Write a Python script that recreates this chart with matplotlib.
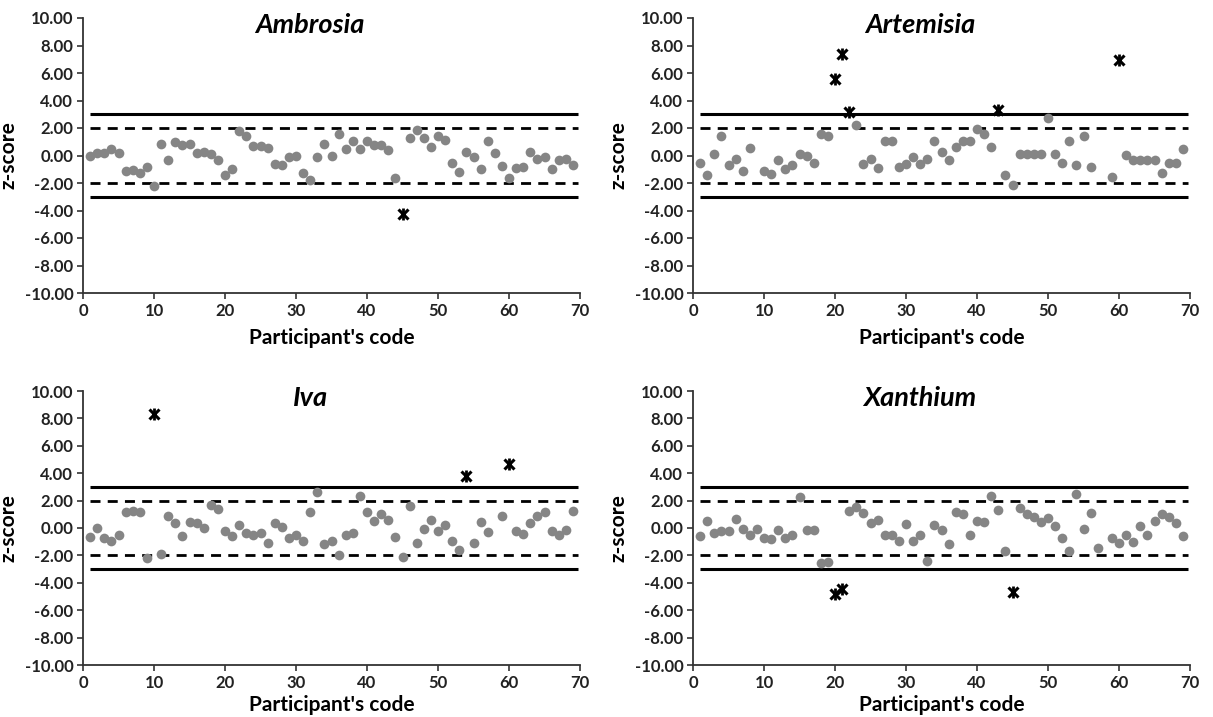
import matplotlib
matplotlib.use("Agg")
import matplotlib.pyplot as plt
import numpy as np

plt.rcParams['font.family'] = ['Lato', 'DejaVu Sans']

# ---------------- data ----------------
amb_codes = [1,2,3,4,5,6,7,8,9,10,11,12,13,14,15,16,17,18,19,20,21,22,23,24,25,26,27,28,29,30,
             31,32,33,34,35,36,37,38,39,40,41,42,43,44,46,47,48,49,50,51,52,53,54,55,56,57,58,59,60,
             61,62,63,64,65,66,67,68,69]
amb_z = [0.0,0.15,0.2,0.5,0.15,-1.15,-1.05,-1.3,-0.85,-2.25,0.83,-0.3,1.0,0.75,0.83,0.15,0.25,0.08,-0.3,-1.45,
         -0.95,1.75,1.4,0.7,0.7,0.52,-0.62,-0.7,-0.12,-0.05,-1.3,-1.8,-0.12,0.83,0.0,1.58,0.45,1.02,0.45,1.07,
         0.75,0.75,0.38,-1.65,1.28,1.83,1.25,0.65,1.4,1.13,-0.55,-1.22,0.25,-0.12,-1.0,1.07,0.2,-0.75,-1.62,
         -0.88,-0.8,0.25,-0.25,-0.12,-1.0,-0.3,-0.25,-0.68]
amb_out_codes = [45]
amb_out_z = [-4.25]

art_codes = [1,2,3,4,5,6,7,8,10,11,12,13,14,15,16,17,18,19,23,24,25,26,27,28,29,30,31,32,33,34,35,36,
             37,38,39,40,41,42,44,45,46,47,48,49,50,51,52,53,54,55,56,59,61,62,63,64,65,66,67,68,69]
art_z = [-0.57,-1.42,0.14,1.45,-0.67,-0.29,-1.12,0.57,-1.12,-1.32,-0.31,-1.0,-0.72,0.09,-0.01,-0.52,1.6,1.4,
         2.2,-0.59,-0.24,-0.89,1.02,1.02,-0.82,-0.59,-0.11,-0.62,-0.24,1.02,0.24,-0.31,0.59,1.02,1.02,1.9,1.6,
         0.64,-1.42,-2.13,0.14,0.14,0.14,0.14,2.7,0.14,-0.52,1.07,-0.72,1.4,-0.82,-1.57,0.01,-0.31,-0.31,-0.31,
         -0.31,-1.27,-0.52,-0.52,0.46]
art_out_codes = [20, 21, 22, 43, 60]
art_out_z = [5.6, 7.41, 3.16, 3.33, 6.96]

iva_codes = [1,2,3,4,5,6,7,8,9,11,12,13,14,15,16,17,18,19,20,21,22,23,24,25,26,27,28,29,30,31,32,33,34,
             35,36,37,38,39,40,41,42,43,44,45,46,47,48,49,50,51,52,53,55,56,57,59,61,62,63,64,65,66,67,68,69]
iva_z = [-0.68,0.01,-0.75,-0.93,-0.5,1.18,1.24,1.18,-2.2,-1.87,0.9,0.34,-0.6,0.42,0.34,0.01,1.67,1.41,-0.24,
         -0.6,0.22,-0.37,-0.5,-0.34,-1.06,0.34,0.09,-0.75,-0.5,-0.96,1.18,2.64,-1.18,-0.96,-1.95,-0.5,-0.34,2.3,
         1.18,0.52,1.03,0.57,-0.68,-2.15,1.62,-1.06,-0.04,0.57,-0.19,0.22,-0.93,-1.62,-1.06,0.42,-0.29,0.9,
         -0.19,-0.42,0.34,0.85,1.18,-0.24,-0.5,-0.11,1.24]
iva_out_codes = [10, 54, 60]
iva_out_z = [8.3, 3.78, 4.67]

xan_codes = [1,2,3,4,5,6,7,8,9,10,11,12,13,14,15,16,17,18,19,22,23,24,25,26,27,28,29,30,31,32,33,34,35,
             36,37,38,39,40,41,42,43,44,46,47,48,49,50,51,52,53,54,55,56,57,59,60,61,62,63,64,65,66,67,68,69]
xan_z = [-0.59,0.52,-0.36,-0.21,-0.21,0.67,-0.04,-0.49,-0.04,-0.72,-0.79,-0.16,-0.74,-0.49,2.23,-0.11,-0.11,
         -2.55,-2.48,1.22,1.52,1.09,0.34,0.59,-0.54,-0.54,-0.97,0.26,-0.97,-0.49,-2.38,0.21,-0.11,-1.17,1.17,
         1.02,-0.49,0.52,0.42,2.35,1.35,-1.67,1.47,1.02,0.79,0.47,0.72,0.16,-0.72,-1.67,2.48,-0.04,1.09,-1.47,
         -0.72,-1.12,-0.49,-1.04,0.16,-0.49,0.52,1.04,0.77,0.34,-0.59]
xan_out_codes = [20, 21, 45]
xan_out_z = [-4.82, -4.47, -4.69]

titles = ["Ambrosia", "Artemisia", "Iva", "Xanthium"]
limit_x = [1, 69.7]
action_limit = 3
warning_limit = 2
x_ticks = [0, 10, 20, 30, 40, 50, 60, 70]
y_ticks = [-10, -8, -6, -4, -2, 0, 2, 4, 6, 8, 10]
x_label = "Participant's code"
y_label = "z-score"

panels = [
    (amb_codes, amb_z, amb_out_codes, amb_out_z),
    (art_codes, art_z, art_out_codes, art_out_z),
    (iva_codes, iva_z, iva_out_codes, iva_out_z),
    (xan_codes, xan_z, xan_out_codes, xan_out_z),
]

# ---------------- figure ----------------
W, H = 1213, 717
fig = plt.figure(figsize=(W / 100, H / 100), dpi=100)

boxes = [
    (83, 18, 580, 293),
    (693, 18, 1190, 293),
    (83, 391, 580, 665),
    (693, 391, 1190, 665),
]
label_pads = [7, 7, 3, 3]

for (l, t, r, b), title, (codes, z, oc, oz), lp in zip(boxes, titles, panels, label_pads):
    ax = fig.add_axes([l / W, 1 - b / H, (r - l) / W, (b - t) / H])
    ax.set_xlim(0, 70)
    ax.set_ylim(-10, 10)
    for sgn in (1, -1):
        ax.plot(limit_x, [sgn * action_limit] * 2, color='black', lw=2.2,
                solid_capstyle='butt', zorder=2)
        ax.plot(limit_x, [sgn * warning_limit] * 2, color='black', lw=2.0,
                dashes=(3.6, 2.6), dash_capstyle='butt', zorder=2)
    ax.plot(codes, z, linestyle='none', marker='o', ms=7.0, color='#858585',
            markeredgewidth=0, zorder=3)
    ax.plot(oc, oz, linestyle='none', marker='x', ms=7, mew=2.2, color='black', zorder=4)
    ax.plot(oc, oz, linestyle='none', marker='|', ms=8, mew=2.0, color='black', zorder=4)

    ax.set_xticks(x_ticks)
    ax.set_yticks(y_ticks)
    ax.set_yticklabels([f"{v:.2f}" for v in y_ticks])
    for lab in ax.get_xticklabels() + ax.get_yticklabels():
        lab.set_fontweight('bold')
        lab.set_fontsize(12)
        lab.set_color('#222222')
    ax.tick_params(direction='out', length=4, width=1.2, color='#333333', pad=3)
    for s in ('top', 'right'):
        ax.spines[s].set_visible(False)
    for s in ('left', 'bottom'):
        ax.spines[s].set_linewidth(1.3)
        ax.spines[s].set_color('#333333')
    ax.set_xlabel(x_label, fontsize=15, fontweight='bold', labelpad=lp)
    ax.set_ylabel(y_label, fontsize=15, fontweight='bold', labelpad=4)
    ax.text(0.457, 0.975, title, transform=ax.transAxes, ha='center', va='center',
            fontsize=19.5, fontweight='bold', fontstyle='italic')

fig.savefig("out.png", dpi=100, facecolor='white')
